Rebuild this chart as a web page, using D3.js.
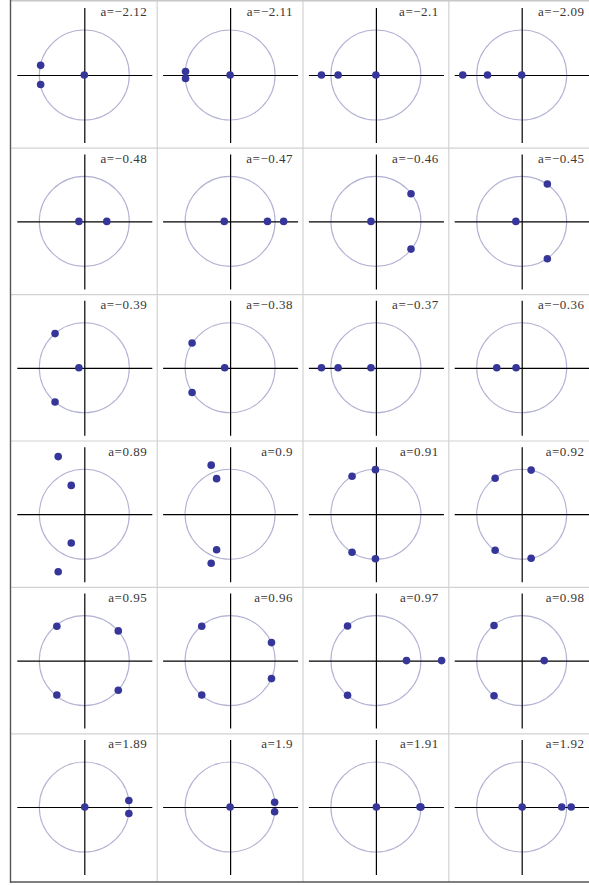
<!DOCTYPE html>
<html>
<head>
<meta charset="utf-8">
<script src="https://cdn.jsdelivr.net/npm/d3@7/dist/d3.min.js"></script>
<style>
  html, body { margin: 0; padding: 0; background: #fff; }
  svg { display: block; }
  .label { font-family: 'Liberation Serif', 'Times New Roman', serif; font-size: 13px; letter-spacing: 0.5px; fill: #3a3636; }
</style>
</head>
<body>
<svg id="chart" width="589" height="885"></svg>
<script>
// Parameter value shown in each panel (row by row, 4 per row)
const aValues = [
  -2.12, -2.11, -2.1, -2.09,
  -0.48, -0.47, -0.46, -0.45,
  -0.39, -0.38, -0.37, -0.36,
  0.89, 0.9, 0.91, 0.92,
  0.95, 0.96, 0.97, 0.98,
  1.89, 1.9, 1.91, 1.92
];

// Roots in the complex plane for each panel, as [re, im]
const roots = [
  [[-0.97, 0.215], [-0.97, -0.21], [0.0, 0]],
  [[-0.99, 0.078], [-0.99, -0.078], [0.0, 0]],
  [[-1.21, 0], [-0.84, 0], [0.0, 0]],
  [[-1.31, 0], [-0.76, 0], [0.0, 0]],

  [[-0.12, 0], [0.50, 0]],
  [[-0.13, 0], [0.83, 0], [1.19, 0]],
  [[-0.11, 0], [0.78, 0.615], [0.78, -0.615]],
  [[-0.13, 0], [0.57, 0.83], [0.57, -0.83]],

  [[-0.65, 0.76], [-0.65, -0.76], [-0.12, 0]],
  [[-0.845, 0.55], [-0.845, -0.55], [-0.12, 0]],
  [[-1.21, 0], [-0.84, 0], [-0.11, 0]],
  [[-0.555, 0], [-0.125, 0]],

  [[-0.58, 1.28], [-0.58, -1.28], [-0.29, 0.64], [-0.29, -0.64]],
  [[-0.42, 1.09], [-0.42, -1.09], [-0.30, 0.79], [-0.30, -0.79]],
  [[-0.01, 0.99], [-0.01, -0.99], [-0.53, 0.845], [-0.53, -0.845]],
  [[0.21, 0.98], [0.21, -0.98], [-0.59, 0.80], [-0.59, -0.80]],

  [[-0.61, 0.765], [-0.61, -0.765], [0.755, 0.66], [0.755, -0.66]],
  [[-0.63, 0.765], [-0.63, -0.765], [0.92, 0.40], [0.92, -0.40]],
  [[-0.63, 0.77], [-0.63, -0.77], [0.68, 0], [1.46, 0]],
  [[-0.615, 0.78], [-0.615, -0.78], [0.50, 0]],

  [[0.01, 0], [0.99, 0.145], [0.99, -0.145]],
  [[0.0, 0], [0.99, 0.105], [0.99, -0.105]],
  [[0.01, 0], [0.98, 0], [1.0, 0]],
  [[0.01, 0], [0.89, 0], [1.10, 0]]
];

const nCols = 4, nRows = 6;
const gridLeft = 11.4, gridTop = 1.8;
const cellW = 145.8, cellH = 146.4;
const unitPx = 45;          // pixels per unit in every panel
const extent = 1.5;         // axes run from -1.5 to 1.5

const svg = d3.select("#chart");

// Panels
aValues.forEach((a, i) => {
  const col = i % nCols, row = Math.floor(i / nCols);
  const x0 = gridLeft + col * cellW, y0 = gridTop + row * cellH;
  const cx = x0 + cellW / 2, cy = y0 + cellH / 2;

  const x = d3.scaleLinear().domain([-extent, extent]).range([cx - extent * unitPx, cx + extent * unitPx]);
  const y = d3.scaleLinear().domain([-extent, extent]).range([cy + extent * unitPx, cy - extent * unitPx]);

  const g = svg.append("g").attr("class", "panel");

  // unit circle
  g.append("circle")
    .attr("cx", x(0)).attr("cy", y(0))
    .attr("r", x(1) - x(0))
    .attr("fill", "none")
    .attr("stroke", "#b2b2d4")
    .attr("stroke-width", 1.1);

  // axes through the origin
  const xAxis = d3.axisBottom(x).tickValues([]).tickSizeOuter(0);
  const yAxis = d3.axisLeft(y).tickValues([]).tickSizeOuter(0);
  g.append("g").attr("transform", `translate(0,${y(0)})`).call(xAxis)
    .select(".domain").attr("stroke", "#000").attr("stroke-width", 1.2);
  g.append("g").attr("transform", `translate(${x(0)},0)`).call(yAxis)
    .select(".domain").attr("stroke", "#000").attr("stroke-width", 1.2);

  // roots
  g.selectAll("circle.root")
    .data(roots[i])
    .join("circle")
    .attr("class", "root")
    .attr("cx", d => x(d[0]))
    .attr("cy", d => y(d[1]))
    .attr("r", 3.8)
    .attr("fill", "#36369a");

  // parameter label
  g.append("text")
    .attr("class", "label")
    .attr("x", x0 + cellW - 10)
    .attr("y", y0 + 14.5)
    .attr("text-anchor", "end")
    .text("a=" + String(a).replace("-", "\u2212"));
});

// Grid separators
const grid = svg.append("g").attr("stroke", "#d2d2d2").attr("stroke-width", 1.2);
d3.range(1, nCols).forEach(c => {
  const gx = gridLeft + c * cellW;
  grid.append("line").attr("x1", gx).attr("x2", gx).attr("y1", 0).attr("y2", 882);
});
d3.range(1, nRows).forEach(r => {
  const gy = gridTop + r * cellH;
  grid.append("line").attr("x1", 10).attr("x2", 589).attr("y1", gy).attr("y2", gy);
});

// Outer frame: light top edge, darker left and bottom edges
svg.append("line").attr("x1", 10).attr("x2", 589).attr("y1", 0.8).attr("y2", 0.8)
  .attr("stroke", "#c8c8c8").attr("stroke-width", 1.6);
svg.append("line").attr("x1", 10.5).attr("x2", 10.5).attr("y1", 0).attr("y2", 883)
  .attr("stroke", "#555").attr("stroke-width", 1.4);
svg.append("line").attr("x1", 10).attr("x2", 589).attr("y1", 882).attr("y2", 882)
  .attr("stroke", "#555").attr("stroke-width", 1.6);
</script>
</body>
</html>
